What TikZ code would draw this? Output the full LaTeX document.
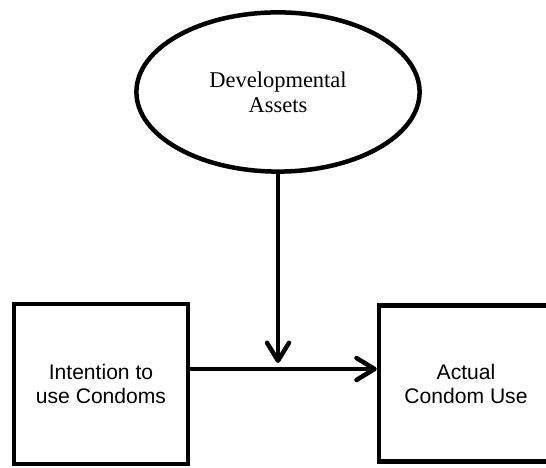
\documentclass[tikz,border=0pt]{standalone}
\usepackage{fontspec}
\setmainfont{Liberation Serif}
\newfontfamily\boxfont{Liberation Sans}
\usetikzlibrary{arrows.meta, shapes.geometric}

\tikzset{
    assetnode/.style={draw, ellipse, line width=3.2pt, minimum width=7.08cm, minimum height=3.98cm, align=center, font=\fontsize{16}{18}\selectfont},
    boxnode/.style={draw, rectangle, line width=3.2pt, minimum width=4.35cm, align=center, font=\boxfont\fontsize{15}{17}\selectfont},
    pathway/.style={line width=3.2pt, -{Straight Barb[length=4.5mm, width=5.5mm, round]}}
}

\begin{document}
\begin{tikzpicture}
                        \clip (0,0) rectangle (13.65,11.7);
                        \node[assetnode] (assets) at (6.95,9.4) {\raisebox{-2pt}{Developmental}\\\raisebox{-2pt}{Assets}};
                        \node[boxnode, minimum height=4cm] (intention) at (2.525,2.1) {Intention to\\use Condoms};
                        \node[boxnode, minimum height=3.9cm] (actual) at (11.65,2.11) {Actual\\Condom Use};
                        \coordinate (start) at ([yshift=0.375cm]intention.east);
                        \coordinate (join) at (assets.south |- start);
                        \draw[pathway] (start) -- (start -| actual.west);
                        \draw[pathway] (assets.south) -- ([yshift=0.15cm]join);
                    \end{tikzpicture}
\end{document}
